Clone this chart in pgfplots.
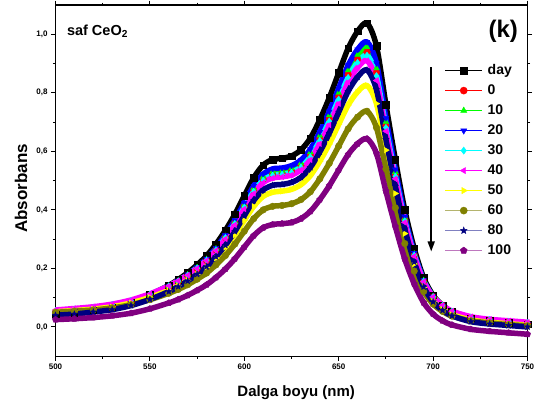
\documentclass[border=0pt]{standalone}
\usepackage{fontspec}
\setmainfont{Liberation Sans}
\usepackage{pgfplots}
\pgfplotsset{compat=1.18}
\usepackage{pgfplotstable}
\usetikzlibrary{arrows.meta,plotmarks}

\definecolor{cRed}{RGB}{255,0,0}
\definecolor{cGreen}{RGB}{0,255,0}
\definecolor{cBlue}{RGB}{0,0,255}
\definecolor{cCyan}{RGB}{0,255,255}
\definecolor{cMag}{RGB}{255,0,255}
\definecolor{cYel}{RGB}{255,255,0}
\definecolor{cOlive}{RGB}{128,128,0}
\definecolor{cNavy}{RGB}{0,0,128}
\definecolor{cPurp}{RGB}{128,0,128}
\definecolor{lOlive}{RGB}{180,180,110}
\definecolor{lNavy}{RGB}{128,128,192}
\definecolor{lPurp}{RGB}{190,120,190}

% filled five-pointed star
\pgfdeclareplotmark{fstar}{%
  \pgfpathmoveto{\pgfpointpolar{90}{\pgfplotmarksize}}%
  \pgfpathlineto{\pgfpointpolar{126}{0.42\pgfplotmarksize}}%
  \pgfpathlineto{\pgfpointpolar{162}{\pgfplotmarksize}}%
  \pgfpathlineto{\pgfpointpolar{198}{0.42\pgfplotmarksize}}%
  \pgfpathlineto{\pgfpointpolar{234}{\pgfplotmarksize}}%
  \pgfpathlineto{\pgfpointpolar{270}{0.42\pgfplotmarksize}}%
  \pgfpathlineto{\pgfpointpolar{306}{\pgfplotmarksize}}%
  \pgfpathlineto{\pgfpointpolar{342}{0.42\pgfplotmarksize}}%
  \pgfpathlineto{\pgfpointpolar{18}{\pgfplotmarksize}}%
  \pgfpathlineto{\pgfpointpolar{54}{0.42\pgfplotmarksize}}%
  \pgfpathclose
  \pgfusepathqfillstroke
}

% wavelength (nm) vs absorbance, one column per series
\pgfplotstableread{
x    day   s0    s10   s20   s30   s40   s50   s60   s80   s100
500  0.043 0.050 0.050 0.048 0.055 0.058 0.052 0.050 0.040 0.025
510  0.049 0.055 0.055 0.054 0.060 0.063 0.056 0.054 0.044 0.028
520  0.057 0.062 0.063 0.061 0.066 0.069 0.061 0.058 0.051 0.032
530  0.068 0.071 0.072 0.071 0.076 0.078 0.069 0.065 0.059 0.038
540  0.085 0.086 0.087 0.086 0.090 0.092 0.082 0.076 0.073 0.047
550  0.110 0.108 0.110 0.110 0.112 0.113 0.101 0.093 0.094 0.062
560  0.142 0.137 0.139 0.139 0.140 0.140 0.125 0.115 0.121 0.082
565  0.162 0.155 0.157 0.158 0.157 0.158 0.141 0.128 0.138 0.094
570  0.185 0.175 0.178 0.179 0.177 0.177 0.159 0.144 0.157 0.108
575  0.212 0.199 0.203 0.204 0.201 0.200 0.180 0.163 0.180 0.125
580  0.243 0.227 0.231 0.233 0.228 0.227 0.204 0.184 0.206 0.144
585  0.283 0.263 0.267 0.270 0.263 0.261 0.235 0.212 0.240 0.169
590  0.330 0.305 0.310 0.314 0.305 0.301 0.272 0.244 0.279 0.198
595  0.385 0.355 0.360 0.365 0.353 0.349 0.315 0.283 0.326 0.233
600  0.448 0.412 0.418 0.424 0.409 0.403 0.364 0.327 0.380 0.273
605  0.510 0.467 0.474 0.482 0.463 0.456 0.412 0.370 0.432 0.312
610  0.553 0.505 0.513 0.522 0.501 0.493 0.446 0.400 0.468 0.339
615  0.572 0.522 0.531 0.540 0.518 0.509 0.460 0.412 0.484 0.350
620  0.576 0.526 0.534 0.543 0.521 0.513 0.464 0.415 0.487 0.353
625  0.584 0.533 0.542 0.551 0.528 0.519 0.470 0.421 0.494 0.357
630  0.605 0.551 0.560 0.570 0.546 0.537 0.486 0.435 0.511 0.370
635  0.645 0.587 0.597 0.607 0.581 0.571 0.517 0.462 0.545 0.395
640  0.708 0.644 0.654 0.666 0.637 0.626 0.566 0.506 0.598 0.435
645  0.783 0.711 0.723 0.736 0.703 0.690 0.625 0.559 0.662 0.482
650  0.868 0.787 0.800 0.815 0.778 0.763 0.692 0.618 0.734 0.536
655  0.952 0.863 0.877 0.894 0.852 0.836 0.758 0.677 0.805 0.589
660  1.010 0.915 0.930 0.948 0.903 0.886 0.803 0.717 0.854 0.626
665  1.038 0.940 0.956 0.974 0.928 0.910 0.825 0.737 0.878 0.643
670  0.960 0.870 0.884 0.901 0.858 0.842 0.763 0.681 0.811 0.593
675  0.760 0.689 0.701 0.714 0.681 0.669 0.604 0.540 0.641 0.464
680  0.572 0.520 0.529 0.538 0.515 0.506 0.456 0.407 0.481 0.343
685  0.400 0.365 0.371 0.377 0.362 0.357 0.319 0.285 0.335 0.232
690  0.268 0.246 0.250 0.253 0.245 0.242 0.215 0.191 0.222 0.147
695  0.168 0.156 0.159 0.160 0.156 0.155 0.135 0.121 0.137 0.083
700  0.108 0.102 0.103 0.103 0.103 0.103 0.087 0.078 0.086 0.044
705  0.074 0.071 0.072 0.072 0.073 0.074 0.060 0.053 0.057 0.021
710  0.052 0.051 0.052 0.051 0.053 0.054 0.042 0.037 0.038 0.007
720  0.030 0.031 0.032 0.030 0.033 0.035 0.024 0.021 0.018 -0.008
730  0.021 0.023 0.023 0.021 0.025 0.026 0.016 0.014 0.010 -0.015
740  0.015 0.017 0.017 0.015 0.019 0.021 0.011 0.008 0.005 -0.020
750  0.010 0.012 0.012 0.010 0.014 0.016 0.006 0.004 0.000 -0.025
}\data

% #1 column, #2 colour, #3 legend line colour, #4 mark, #5 legend text
\newcommand{\series}[5]{%
  \addplot[#2, line width=5.5pt, smooth, line join=round, forget plot]
    table[x=x, y=#1] {\data};
  \addplot[#2, only marks, #4, mark size=3.3pt,
    legend image code/.code={%
      \draw[#3, line width=0.9pt] (0pt,0pt) -- (37pt,0pt);
      \draw[#2, #4, mark size=3.6pt] plot coordinates {(18.5pt,0pt)};}]
    table[x=x, y=#1] {\data};
  \addlegendentry{#5}
}

\begin{document}
\begin{tikzpicture}
\begin{axis}[
    width=472pt, height=351.2pt, scale only axis,
    xmin=500, xmax=750, ymin=-0.1, ymax=1.1,
    xtick={500,550,600,650,700,750}, minor x tick num=1,
    ytick={0,0.2,0.4,0.6,0.8,1.0}, minor y tick num=1,
    tick align=outside,
    major tick length=4.5pt, minor tick length=2.5pt,
    axis line style={line width=1.3pt},
    every tick/.style={black, line width=1pt},
    /pgf/number format/assume math mode=true,
    ticklabel style={font=\bfseries\fontsize{8}{9}\selectfont},
    yticklabel style={/pgf/number format/.cd, use comma, fixed, fixed zerofill, precision=1},
    xlabel={Dalga boyu (nm)},
    ylabel={Absorbans},
    xlabel style={font=\bfseries\fontsize{15}{18}\selectfont,
      at={(axis description cs:0.51,-0.105)}, anchor=center},
    ylabel style={font=\bfseries\fontsize{17}{20}\selectfont,
      at={(axis description cs:-0.073,0.478)}, anchor=center},
    legend style={at={(rel axis cs:0.818,0.838)}, anchor=north west,
      draw=none, fill=none, row sep=7pt, column sep=5pt,
      font=\bfseries\fontsize{14}{16}\selectfont,
      nodes={inner sep=0pt, text height=10pt, text depth=3pt}},
    legend cell align=left,
]
\series{day}{black}{black}{mark=square*}{day}
\series{s0}{cRed}{cRed}{mark=*}{0}
\series{s10}{cGreen}{cGreen}{mark=triangle*}{10}
\series{s20}{cBlue}{cBlue}{mark=triangle*, mark options={rotate=180}}{20}
\series{s30}{cCyan}{cCyan}{mark=diamond*}{30}
\series{s40}{cMag}{cMag}{mark=triangle*, mark options={rotate=90}}{40}
\series{s50}{cYel}{cYel}{mark=triangle*, mark options={rotate=-90}}{50}
\series{s60}{cOlive}{lOlive}{mark=*}{60}
\series{s80}{cNavy}{lNavy}{mark=fstar}{80}
\series{s100}{cPurp}{lPurp}{mark=pentagon*}{100}

\draw[-{Triangle[length=10pt,width=7pt]}, line width=1.6pt]
  (axis cs:699,0.887) -- (axis cs:699,0.258);
\node[anchor=base west, inner sep=0pt, font=\bfseries\fontsize{14.5}{17}\selectfont]
  at (axis cs:506,0.996) {saf CeO\textsubscript{2}};
\node[anchor=base east, inner sep=0pt, font=\bfseries\fontsize{24}{28}\selectfont]
  at (axis cs:745,0.99) {(k)};
\coordinate (sw) at (rel axis cs:0,0);
\coordinate (ne) at (rel axis cs:1,1);
\end{axis}
\pgfresetboundingbox
\path ([xshift=-55.5pt,yshift=-51.8pt]sw) rectangle ([xshift=9.5pt,yshift=5pt]ne);
\end{tikzpicture}
\end{document}
